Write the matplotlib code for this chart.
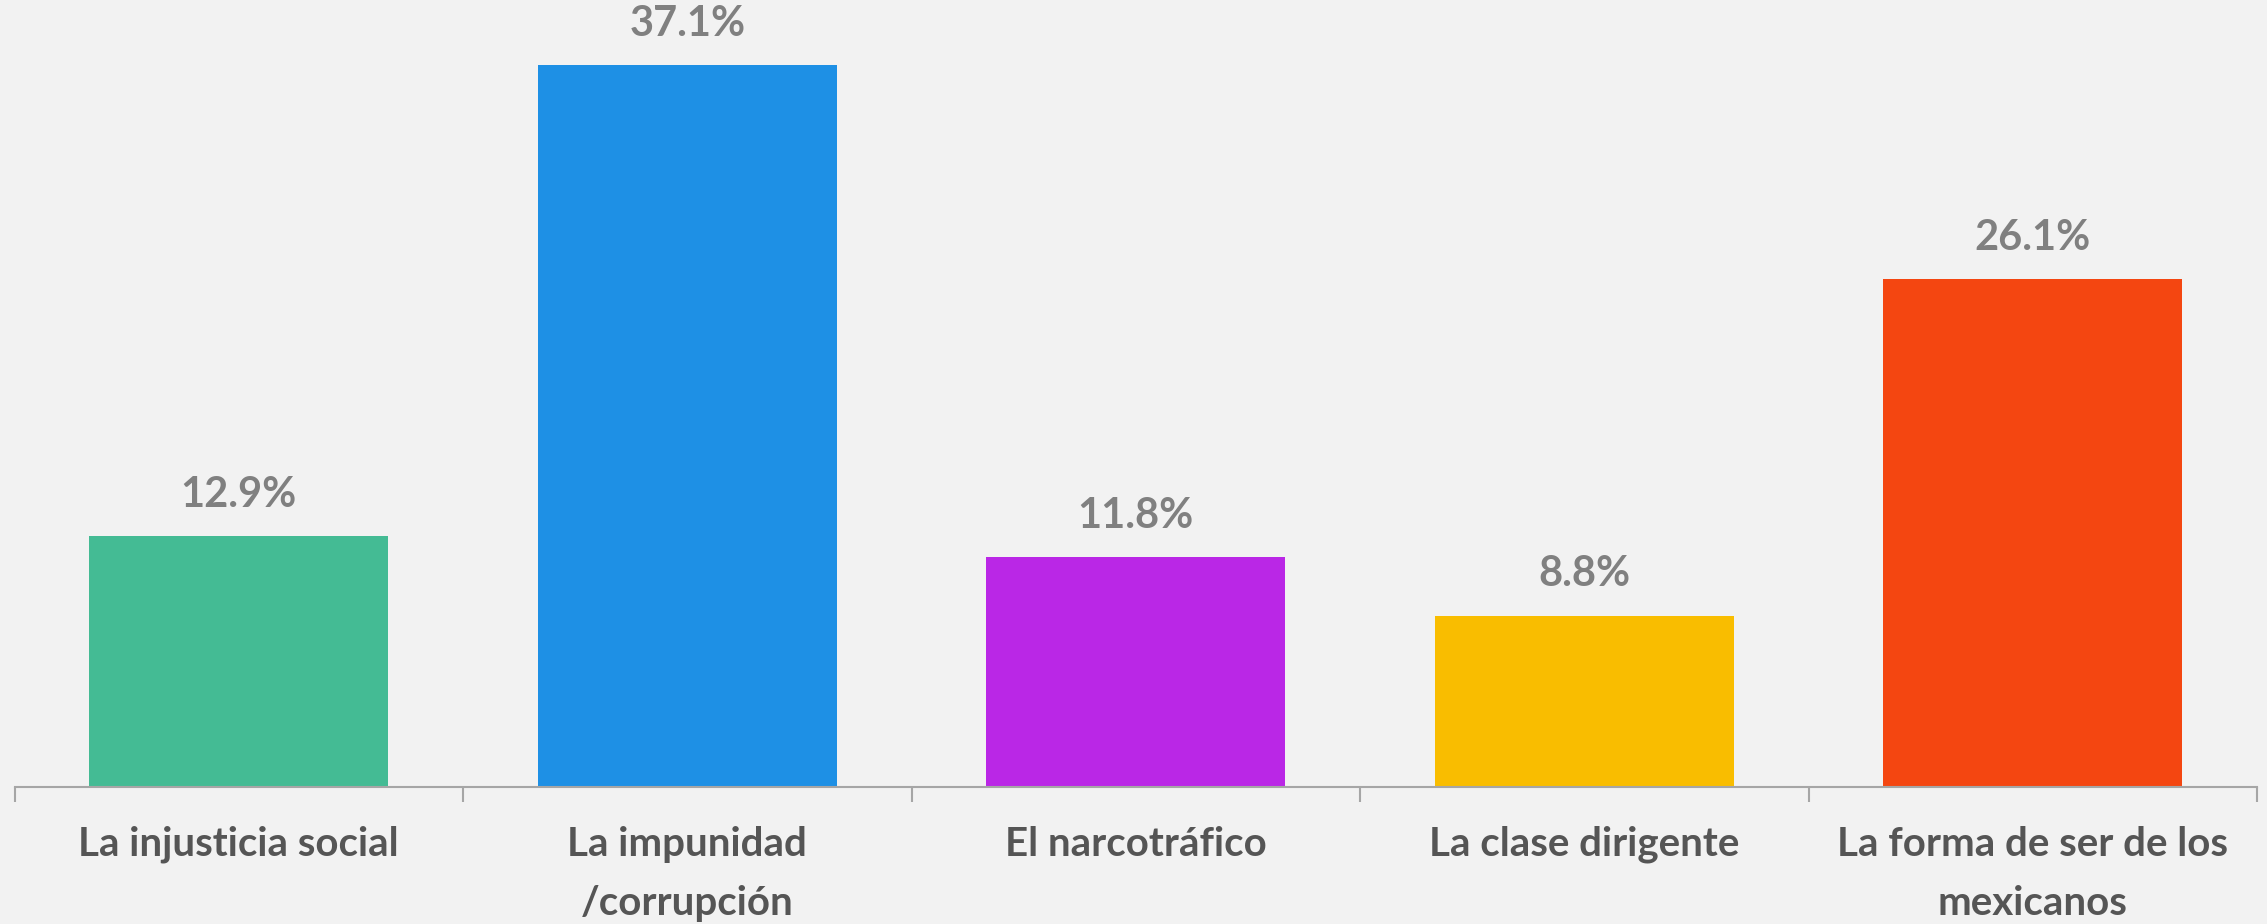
import numpy as np
import matplotlib.pyplot as plt
from matplotlib.ticker import FixedLocator

# data
categories = ["La injusticia social", "La impunidad\n/corrupción", "El narcotráfico",
              "La clase dirigente", "La forma de ser de los\nmexicanos"]
values = [12.9, 37.1, 11.8, 8.8, 26.1]
colors = ["#44BB94", "#1E90E5", "#BA27E6", "#F9BD00", "#F44611"]

bg = "#F2F2F2"
plt.rcParams['font.family'] = ['Lato', 'DejaVu Sans']

fig = plt.figure(figsize=(22.67, 9.24), dpi=100, facecolor=bg)
ax = fig.add_axes([14.5 / 2267, 137 / 924, 2242.5 / 2267, 787 / 924])
ax.set_facecolor(bg)

x = np.arange(len(categories))
ax.bar(x, values, width=0.667, color=colors)

for xi, v in zip(x, values):
    ax.text(xi, v + 1.15, f"{v:.1f}%", ha="center", va="bottom",
            fontsize=30, fontweight="bold", color="#808080")

ax.set_xlim(-0.5, len(categories) - 0.5)
ax.set_ylim(0, 40.44)

for s in ["top", "right", "left"]:
    ax.spines[s].set_visible(False)
ax.spines["bottom"].set_color("#A6A6A6")
ax.spines["bottom"].set_linewidth(1.5)
ax.set_yticks([])

ax.set_xticks(x)
ax.set_xticklabels(categories, fontsize=29, fontweight="bold", color="#555555",
                   linespacing=1.75)
ax.tick_params(axis="x", which="major", length=0, pad=28)
ax.xaxis.set_minor_locator(FixedLocator(np.arange(len(categories) + 1) - 0.5))
ax.tick_params(axis="x", which="minor", length=11, width=1.5, color="#A6A6A6")

fig.savefig("out.png", dpi=100, facecolor=bg)
